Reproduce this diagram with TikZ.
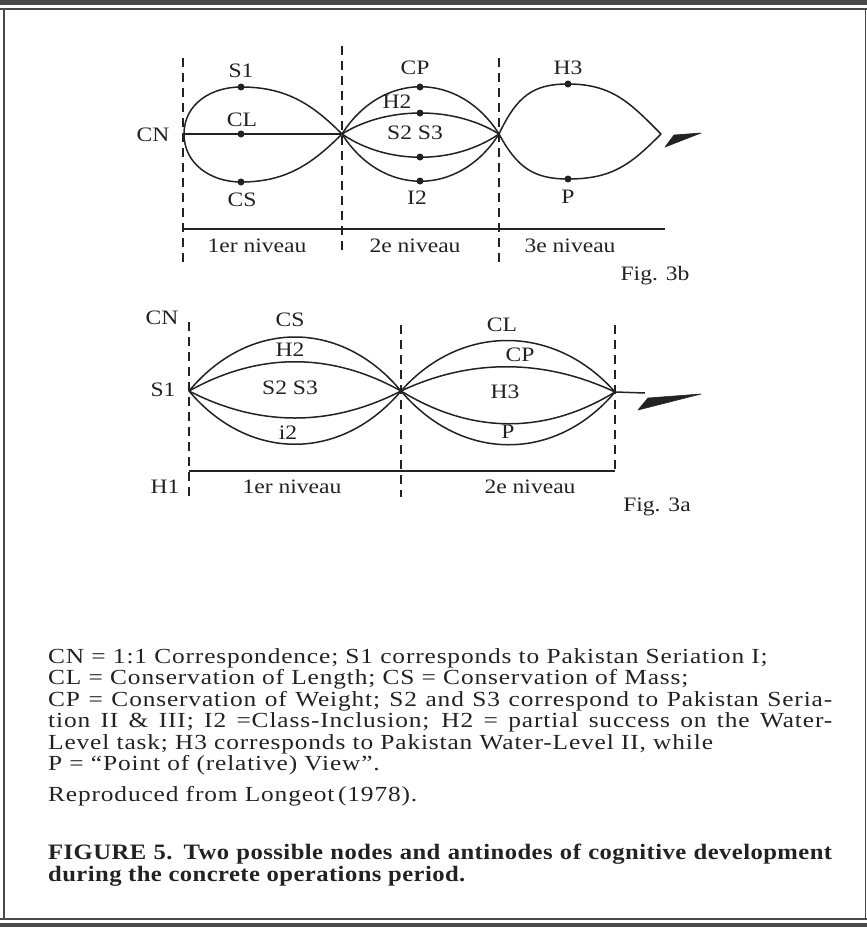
\documentclass[tikz,border=0pt]{standalone}
\usepackage{fontspec}
\setmainfont{Liberation Serif}
\newfontfamily\capfont{Liberation Serif}[FakeStretch=1.18,LetterSpace=4]
\newfontfamily\capbfont{Liberation Serif Bold}[FakeStretch=1.12,LetterSpace=2]
\newfontfamily\lblfont{Liberation Serif}[FakeStretch=1.15]
\definecolor{ink}{HTML}{222222}
\definecolor{rulec}{HTML}{4A4A4A}
\begin{document}
\begin{tikzpicture}[x=1pt,y=-1pt,
  curve/.style={line width=1.5pt,draw=ink},
  vdash/.style={line width=1.4pt,draw=ink,dash pattern=on 9pt off 6pt},
  baseln/.style={line width=1.4pt,draw=ink},
  dot/.style={circle,fill=ink,inner sep=0pt,minimum size=7pt},
  lbl/.style={font=\lblfont\fontsize{20.5}{21}\selectfont,text=ink,inner sep=0pt},
  captxt/.style={font=\capfont\fontsize{21.5}{22}\selectfont,text=ink,anchor=west,inner sep=0pt},
  captbold/.style={font=\capbfont\fontsize{22}{23}\selectfont,text=ink,anchor=west,inner sep=0pt},
  dart/.style={fill=ink,draw=ink,line width=0.6pt,line join=round}]
\useasboundingbox (0,0) rectangle (867,932);
% ---------- frame ----------
\fill[rulec] (0,0) rectangle (867,5);
\draw[rulec,line width=1.2pt] (0,9) -- (867,9);
\draw[rulec,line width=1.5pt] (4,9) -- (4,919);
\draw[rulec,line width=1pt] (865,9) -- (865,919);
\draw[rulec,line width=1.5pt] (0,919) -- (867,919);
\fill[rulec] (0,923) rectangle (867,927);

% ================= Fig. 3b =================
\coordinate (bA) at (184,134);
\coordinate (bB) at (342,134);
\coordinate (bC) at (499,134);
\coordinate (bT) at (661,134);
\coordinate (bD1t) at (183,58);  \coordinate (bD1b) at (183,265);
\coordinate (bD2t) at (342,46);  \coordinate (bD2b) at (342,250);
\coordinate (bD3t) at (499,58);  \coordinate (bD3b) at (499,262);
\coordinate (bL0) at (184,229);  \coordinate (bL1) at (665,229);
\coordinate (bAr1) at (665,147); \coordinate (bAr2) at (701,133); \coordinate (bAr3) at (674,135);

\draw[vdash] (bD1t) -- (bD1b);
\draw[vdash] (bD2t) -- (bD2b);
\draw[vdash] (bD3t) -- (bD3b);
\draw[baseln] (bL0) -- (bL1);

\node[dot] (dS1) at (241,87) {};
\node[dot] (dCL) at (241,134) {};
\node[dot] (dCS) at (241,182) {};
\node[dot] (dCP) at (420,87) {};
\node[dot] (dH2) at (420,113) {};
\node[dot] (dS23) at (420,157) {};
\node[dot] (dI2) at (420,181) {};
\node[dot] (dH3) at (568,84) {};
\node[dot] (dP) at (568,179) {};

% lobe 1
\draw[curve] (bA) .. controls +(0,-30) and +(-30,0) .. (dS1.center) .. controls +(45,0) and +(-30,-30) .. (bB);
\draw[curve] (bA) .. controls +(0,30) and +(-30,0) .. (dCS.center) .. controls +(45,0) and +(-30,30) .. (bB);
\draw[curve] (bA) -- (bB);
% lobe 2
\draw[curve] (bB) .. controls +(40,-63) and +(-40,-63) .. (bC);
\draw[curve] (bB) .. controls +(45,-28) and +(-45,-28) .. (bC);
\draw[curve] (bB) .. controls +(45,31) and +(-45,31) .. (bC);
\draw[curve] (bB) .. controls +(40,63) and +(-40,63) .. (bC);
% lobe 3
\draw[curve] (bC) .. controls +(18,-38) and +(-35,0) .. (dH3.center) .. controls +(45,0) and +(-30,-30) .. (bT);
\draw[curve] (bC) .. controls +(18,33) and +(-35,0) .. (dP.center) .. controls +(45,0) and +(-30,30) .. (bT);
\fill[dart] (bAr1) -- (bAr2) -- (bAr3) -- cycle;

\node[lbl] (tCNb) at (153,135) {CN};
\node[lbl] (tS1b) at (241,71) {S1};
\node[lbl] (tCLb) at (242,120) {CL};
\node[lbl] (tCSb) at (242,200) {CS};
\node[lbl] (tCPb) at (415,68) {CP};
\node[lbl] (tH2b) at (397,102) {H2};
\node[lbl] (tS23b) at (415,133) {S2 S3};
\node[lbl] (tI2b) at (417,198) {I2};
\node[lbl] (tH3b) at (568,68) {H3};
\node[lbl] (tPb) at (568,197) {P};
\node[lbl] (tN1b) at (257,246) {1er niveau};
\node[lbl] (tN2b) at (415,246) {2e niveau};
\node[lbl] (tN3b) at (570,246) {3e niveau};
\node[lbl] (tFigb) at (655,276) {Fig. 3b};

% ================= Fig. 3a =================
\coordinate (aA) at (189,391);
\coordinate (aB) at (401,391);
\coordinate (aC) at (615,392);
\coordinate (aD1t) at (189,322); \coordinate (aD1b) at (189,497);
\coordinate (aD2t) at (401,325); \coordinate (aD2b) at (401,497);
\coordinate (aD3t) at (615,325); \coordinate (aD3b) at (615,471);
\coordinate (aL0) at (189,471);  \coordinate (aL1) at (615,471);
\coordinate (aS) at (645,393);
\coordinate (aAr1) at (638,410); \coordinate (aAr2) at (701,394); \coordinate (aAr3) at (648,398);

\draw[vdash] (aD1t) -- (aD1b);
\draw[vdash] (aD2t) -- (aD2b);
\draw[vdash] (aD3t) -- (aD3b);
\draw[baseln] (aL0) -- (aL1);

\draw[curve] (aA) .. controls +(60,-72) and +(-60,-72) .. (aB);
\draw[curve] (aA) .. controls +(70,-39) and +(-70,-39) .. (aB);
\draw[curve] (aA) .. controls +(70,36) and +(-70,36) .. (aB);
\draw[curve] (aA) .. controls +(60,71) and +(-60,71) .. (aB);
\draw[curve] (aB) .. controls +(60,-68) and +(-60,-68) .. (aC);
\draw[curve] (aB) .. controls +(70,-33) and +(-70,-33) .. (aC);
\draw[curve] (aB) .. controls +(70,43) and +(-70,43) .. (aC);
\draw[curve] (aB) .. controls +(60,71) and +(-60,71) .. (aC);
\draw[curve] (aC) -- (aS);
\fill[dart] (aAr1) -- (aAr2) -- (aAr3) -- cycle;

\node[lbl] (tCNa) at (162,318) {CN};
\node[lbl] (tS1a) at (163,390) {S1};
\node[lbl] (tH1a) at (165,487) {H1};
\node[lbl] (tCSa) at (290,320) {CS};
\node[lbl] (tH2a) at (290,350) {H2};
\node[lbl] (tS23a) at (290,388) {S2 S3};
\node[lbl] (ti2a) at (288,433) {i2};
\node[lbl] (tCLa) at (502,325) {CL};
\node[lbl] (tCPa) at (520,355) {CP};
\node[lbl] (tH3a) at (505,392) {H3};
\node[lbl] (tPa) at (508,432) {P};
\node[lbl] (tN1a) at (292,487) {1er niveau};
\node[lbl] (tN2a) at (530,487) {2e niveau};
\node[lbl] (tFiga) at (657,507) {Fig. 3a};

% ================= caption =================
\node[captxt] (c1) at (48,658) {CN = 1:1 Correspondence; S1 corresponds to Pakistan Seriation I;};
\node[captxt] (c2) at (48,679.5) {CL = Conservation of Length; CS = Conservation of Mass;};
\node[captxt] (c3) at (48,701) {\makebox[784pt][s]{CP = Conservation of Weight; S2 and S3 correspond to Pakistan Seria-}};
\node[captxt] (c4) at (48,722.5) {\makebox[784pt][s]{tion II \& III; I2 =Class-Inclusion; H2 = partial success on the Water-}};
\node[captxt] (c5) at (48,744) {Level task; H3 corresponds to Pakistan Water-Level II, while};
\node[captxt] (c6) at (48,765.5) {P = “Point of (relative) View”.};
\node[captxt] (c7) at (48,796) {Reproduced from Longeot\,(1978).};
\node[captbold] (c8) at (48,854) {\makebox[784pt][s]{FIGURE 5. Two possible nodes and antinodes of cognitive development}};
\node[captbold] (c9) at (48,876) {during the concrete operations period.};
\end{tikzpicture}
\end{document}
